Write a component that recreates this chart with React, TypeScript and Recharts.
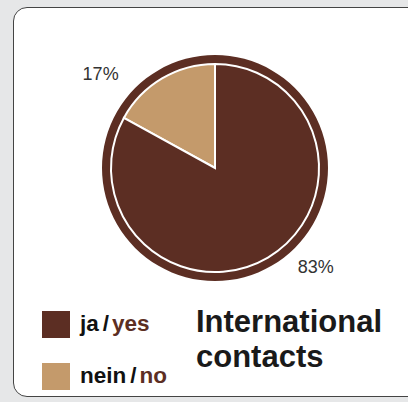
import React from "react";
import { PieChart, Pie, Cell, Legend } from "recharts";

const categories = ["nein", "ja"];
const englishLabels = ["no", "yes"];
const shares = [17, 83];
const sliceColors = ["#c49a6b", "#5c2e23"];
const titleLines = ["International", "contacts"];
const ringData = [{ name: "ring", value: 1 }];

const data = categories.map((name, i) => ({
  name,
  english: englishLabels[i],
  value: shares[i],
}));

const boldFont = "'Liberation Sans', Arial, sans-serif";

const RAD = Math.PI / 180;
// per-slice nudge so labels sit where the original has them
const labelShift: Record<string, { angle: number; radius: number }> = {
  nein: { angle: 20, radius: 148 },
  ja: { angle: 15, radius: 141 },
};

const renderLabel = (props: any) => {
  const { cx, cy, midAngle, payload, value } = props;
  const shift = labelShift[payload.name] || { angle: 0, radius: 140 };
  const a = (midAngle + shift.angle) * RAD;
  const x = cx + shift.radius * Math.cos(a);
  const y = cy - shift.radius * Math.sin(a);
  return (
    <text
      x={x}
      y={y}
      fill="#333333"
      fontSize={18}
      fontFamily="'Liberation Sans', Arial, sans-serif"
      textAnchor="middle"
      dominantBaseline="central"
    >
      {value}%
    </text>
  );
};

const renderLegend = () => {
  // legend lists "ja" first
  const order = [1, 0];
  return (
    <div style={{ fontFamily: boldFont, fontWeight: 700 }}>
      {order.map((i, k) => (
        <div
          key={categories[i]}
          style={{ display: "flex", alignItems: "center", height: 27, marginBottom: k === 0 ? 25 : 0 }}
        >
          <span style={{ width: 28, height: 27, background: sliceColors[i], display: "inline-block" }} />
          <span
            style={{
              marginLeft: 10,
              fontSize: 22.5,
              lineHeight: "26px",
              color: "#111",
              position: "relative",
              top: -1,
            }}
          >
            {categories[i]}
            <span style={{ marginLeft: 4, marginRight: 3 }}>/</span>
            <span style={{ color: "#5c2e23", fontWeight: 700 }}>{englishLabels[i]}</span>
          </span>
        </div>
      ))}
    </div>
  );
};

export default function App() {
  return (
    <div
      style={{
        position: "fixed",
        left: 0,
        top: 0,
        width: 408,
        height: 402,
        background: "#e6e7e8",
        overflow: "hidden",
      }}
    >
      <div
        style={{
          position: "absolute",
          left: 13,
          top: 7,
          width: 410,
          height: 390,
          background: "#ffffff",
          border: "1.5px solid #444",
          borderRadius: 14,
          boxSizing: "border-box",
        }}
      />
      <div style={{ position: "absolute", left: 0, top: 0 }}>
        <PieChart width={408} height={402} margin={{ top: 0, right: 0, bottom: 0, left: 0 }}>
          <Pie
            data={ringData}
            dataKey="value"
            cx={215}
            cy={168}
            outerRadius={113}
            innerRadius={0}
            fill="#5c2e23"
            stroke="none"
            isAnimationActive={false}
          />
          <Pie
            data={data}
            dataKey="value"
            cx={215}
            cy={168}
            outerRadius={104}
            startAngle={90}
            endAngle={450}
            stroke="#ffffff"
            strokeWidth={2}
            label={renderLabel}
            labelLine={false}
            isAnimationActive={false}
          >
            {data.map((d, i) => (
              <Cell key={d.name} fill={sliceColors[i]} />
            ))}
          </Pie>
          <Legend
            content={renderLegend}
            layout="vertical"
            wrapperStyle={{ position: "absolute", left: 42, top: 311, width: 150, bottom: "auto" }}
          />
        </PieChart>
      </div>
      {titleLines.map((line, i) => (
        <div
          key={line}
          style={{
            position: "absolute",
            left: 196,
            top: 305 + i * 35,
            fontFamily: boldFont,
            fontWeight: 700,
            fontSize: 31,
            lineHeight: "34px",
            color: "#1a1a1a",
          }}
        >
          {line}
        </div>
      ))}
    </div>
  );
}
